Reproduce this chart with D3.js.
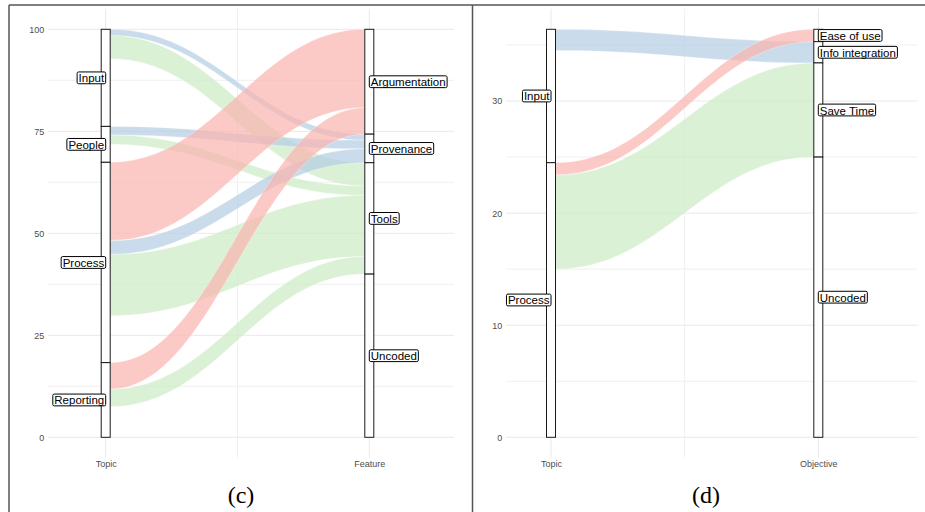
<!DOCTYPE html>
<html>
<head>
<meta charset="utf-8">
<script src="https://cdn.jsdelivr.net/npm/d3@7"></script>
<style>
  html, body { margin: 0; padding: 0; background: #fff; }
  svg { display: block; }
  text.sans { font-family: "Liberation Sans", Arial, Helvetica, sans-serif; }
  text.serif { font-family: "Liberation Serif", "DejaVu Serif", serif; }
</style>
</head>
<body>
<svg id="chart" width="925" height="512"></svg>
<script>
// ---------- DATA : panel (c) ----------
const cAxes = ["Topic", "Feature"];
const cTopics = ["Input", "People", "Process", "Reporting"];
const cFeatures = ["Argumentation", "Provenance", "Tools", "Uncoded"];
const cFlowFrom  = ["Input", "Input", "Input", "People", "People", "People", "Process", "Process", "Process", "Process", "Reporting", "Reporting", "Reporting"];
const cFlowTo    = ["Provenance", "Tools", "Uncoded", "Provenance", "Tools", "Uncoded", "Argumentation", "Provenance", "Tools", "Uncoded", "Argumentation", "Tools", "Uncoded"];
const cFlowValue = [1.5, 5.7, 16.6, 2.1, 2.3, 4.4, 19.2, 3.4, 15.0, 11.5, 6.5, 4.3, 7.5];
const cYTicks = [0, 25, 50, 75, 100];
const cCaption = "(c)";

// ---------- DATA : panel (d) ----------
const dAxes = ["Topic", "Objective"];
const dTopics = ["Input", "Process"];
const dObjectives = ["Ease of use", "Info integration", "Save Time", "Uncoded"];
const dFlowFrom  = ["Input", "Input", "Process", "Process", "Process"];
const dFlowTo    = ["Info integration", "Uncoded", "Ease of use", "Save Time", "Uncoded"];
const dFlowValue = [1.9, 10.0, 1.1, 8.4, 15.0];
const dYTicks = [0, 10, 20, 30];
const dCaption = "(d)";

// ---------- STYLE ----------
const palette = ["#FBB4AE", "#B3CDE3", "#CCEBC5"];   // Pastel1
const hiddenLevel = "Uncoded";

const svg = d3.select("#chart");

function layout(leftLevels, rightLevels, from, to, value) {
  const flows = from.map((f, i) => ({ from: f, to: to[i], value: value[i] }));
  const total = d3.sum(flows, d => d.value);
  const stack = (levels, key) => {
    let cum = total;
    return levels.map(l => {
      const v = d3.sum(flows.filter(d => d[key] === l), d => d.value);
      const s = { name: l, top: cum, bottom: cum - v };
      cum -= v;
      return s;
    });
  };
  const leftStrata = stack(leftLevels, "from");
  const rightStrata = stack(rightLevels, "to");
  leftStrata.forEach(s => {
    let c = s.top;
    flows.filter(d => d.from === s.name)
      .sort((a, b) => rightLevels.indexOf(a.to) - rightLevels.indexOf(b.to))
      .forEach(d => { d.l0 = c; c -= d.value; d.l1 = c; });
  });
  rightStrata.forEach(s => {
    let c = s.top;
    flows.filter(d => d.to === s.name)
      .sort((a, b) => leftLevels.indexOf(a.from) - leftLevels.indexOf(b.from))
      .forEach(d => { d.r0 = c; c -= d.value; d.r1 = c; });
  });
  return { flows, total, leftStrata, rightStrata };
}

function drawPanel(cfg) {
  const g = svg.append("g");
  const L = layout(cfg.leftLevels, cfg.rightLevels, cfg.from, cfg.to, cfg.value);
  const top = 8.9, bottom = 457.7;
  const y = d3.scaleLinear()
    .domain([-0.05 * L.total, 1.05 * L.total])
    .range([bottom, top]);
  const x = d3.scalePoint().domain(cfg.axes).range(cfg.xRange);
  const color = d3.scaleOrdinal().domain(cfg.rightLevels.filter(l => l !== hiddenLevel)).range(palette);
  const [xl, xr] = cfg.panelX;
  const bw = 9;

  // grid
  const minorY = cfg.ticks.slice(0, -1).map((t, i) => (t + cfg.ticks[i + 1]) / 2)
    .concat([cfg.ticks[cfg.ticks.length - 1] + (cfg.ticks[1] - cfg.ticks[0]) / 2])
    .filter(v => y(v) > top);
  g.selectAll(".minorY").data(minorY).join("line")
    .attr("x1", xl).attr("x2", xr).attr("y1", d => y(d)).attr("y2", d => y(d))
    .attr("stroke", "#f0f0f0").attr("stroke-width", 1);
  const xm = (x(cfg.axes[0]) + x(cfg.axes[1])) / 2;
  g.append("line").attr("x1", xm).attr("x2", xm).attr("y1", top).attr("y2", bottom)
    .attr("stroke", "#f0f0f0").attr("stroke-width", 1);
  g.selectAll(".majorY").data(cfg.ticks).join("line")
    .attr("x1", xl).attr("x2", xr).attr("y1", d => y(d)).attr("y2", d => y(d))
    .attr("stroke", "#e9e9e9").attr("stroke-width", 1);
  g.selectAll(".majorX").data(cfg.axes).join("line")
    .attr("x1", d => x(d)).attr("x2", d => x(d)).attr("y1", top).attr("y2", bottom)
    .attr("stroke", "#e9e9e9").attr("stroke-width", 1);

  // flows
  const x0 = x(cfg.axes[0]) + bw / 2, x1 = x(cfg.axes[1]) - bw / 2;
  const dx = x1 - x0, a = 0.42;
  const flowPath = d => {
    const p = d3.path();
    p.moveTo(x0, y(d.l0));
    p.bezierCurveTo(x0 + a * dx, y(d.l0), x1 - a * dx, y(d.r0), x1, y(d.r0));
    p.lineTo(x1, y(d.r1));
    p.bezierCurveTo(x1 - a * dx, y(d.r1), x0 + a * dx, y(d.l1), x0, y(d.l1));
    p.closePath();
    return p.toString();
  };
  g.selectAll(".flow").data(L.flows.filter(d => d.to !== hiddenLevel)).join("path")
    .attr("d", flowPath)
    .attr("fill", d => color(d.to))
    .attr("fill-opacity", 0.7)
    .attr("stroke", "#ffffff").attr("stroke-width", 0.5).attr("stroke-opacity", 0.6);

  // strata
  const strata = L.leftStrata.map(s => ({ ...s, axis: cfg.axes[0], side: "left" }))
    .concat(L.rightStrata.map(s => ({ ...s, axis: cfg.axes[1], side: "right" })));
  g.selectAll(".stratum").data(strata).join("rect")
    .attr("x", d => x(d.axis) - bw / 2).attr("width", bw)
    .attr("y", d => y(d.top)).attr("height", d => y(d.bottom) - y(d.top))
    .attr("fill", "#fff").attr("stroke", "#1a1a1a").attr("stroke-width", 1);

  // labels
  const lab = g.selectAll(".lab").data(strata).join("g");
  lab.each(function (d) {
    const gg = d3.select(this);
    const cy = y((d.top + d.bottom) / 2);
    const cx = x(d.axis);
    const rect = gg.append("rect");
    const t = gg.append("text").attr("class", "sans").text(d.name)
      .attr("font-size", 11.5).attr("fill", "#000")
      .attr("dominant-baseline", "central")
      .attr("y", cy + 0.5);
    const w = t.node().getComputedTextLength();
    const pad = 1.5;
    if (d.side === "left") {
      t.attr("text-anchor", "end").attr("x", cx - pad);
      rect.attr("x", cx - w - 2 * pad);
    } else {
      t.attr("text-anchor", "start").attr("x", cx + pad);
      rect.attr("x", cx);
    }
    rect.attr("width", w + 2 * pad).attr("y", cy - 5.9).attr("height", 11.8)
      .attr("rx", 1.5).attr("fill", "#fff").attr("stroke", "#000").attr("stroke-width", 1);
  });

  // axes
  const ay = g.append("g").attr("transform", `translate(${xl},0)`)
    .call(d3.axisLeft(y).tickValues(cfg.ticks).tickSize(0).tickPadding(3.5));
  ay.select(".domain").remove();
  ay.attr("font-family", null);
  ay.selectAll("text").attr("class", "sans").attr("font-size", 9).attr("fill", "#4d4d4d");
  const ax = g.append("g").attr("transform", `translate(0,${bottom})`)
    .call(d3.axisBottom(x).tickSize(0).tickPadding(3));
  ax.select(".domain").remove();
  ax.attr("font-family", null);
  ax.selectAll("text").attr("class", "sans").attr("font-size", 9).attr("fill", "#4d4d4d");

  // caption
  svg.append("text").attr("class", "serif").text(cfg.caption)
    .attr("x", cfg.captionX).attr("y", 503)
    .attr("text-anchor", "middle")
    .attr("font-size", 24).attr("fill", "#000");
}

drawPanel({
  axes: cAxes, leftLevels: cTopics, rightLevels: cFeatures,
  from: cFlowFrom, to: cFlowTo, value: cFlowValue, ticks: cYTicks,
  xRange: [105.7, 369.3], panelX: [47.7, 454], caption: cCaption, captionX: 241
});
drawPanel({
  axes: dAxes, leftLevels: dTopics, rightLevels: dObjectives,
  from: dFlowFrom, to: dFlowTo, value: dFlowValue, ticks: dYTicks,
  xRange: [551, 818.3], panelX: [505.7, 917.3], caption: dCaption, captionX: 706
});

// frames
const frame = svg.append("g").attr("stroke", "#555").attr("stroke-width", 1.5).attr("fill", "none");
frame.append("line").attr("x1", 9).attr("x2", 925).attr("y1", 5).attr("y2", 5);
frame.append("line").attr("x1", 9).attr("x2", 9).attr("y1", 5).attr("y2", 512);
frame.append("line").attr("x1", 472.5).attr("x2", 472.5).attr("y1", 5).attr("y2", 512);
</script>
</body>
</html>
